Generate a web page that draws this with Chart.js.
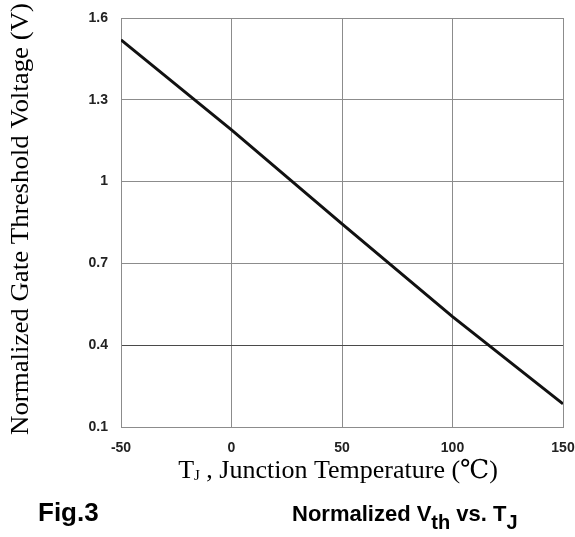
<!DOCTYPE html>
<html>
<head>
<meta charset="utf-8">
<script src="https://cdn.jsdelivr.net/npm/chart.js@4/dist/chart.umd.min.js"></script>
<style>
  html, body { margin: 0; padding: 0; background: #ffffff; }
  #c { display: block; }
</style>
</head>
<body>
<canvas id="c" width="575" height="537"></canvas>
<script>
// ---- data ----
const temperatures = [-50, 0, 50, 100, 150];              // T_J (°C)
const normalizedVth = [1.52, 1.19, 0.845, 0.505, 0.185];  // normalized V_th
const xTickValues = [-50, 0, 50, 100, 150];
const xTickLabels = ['-50', '0', '50', '100', '150'];
const yTickValues = [0.1, 0.4, 0.7, 1.0, 1.3, 1.6];
const yTickLabels = ['0.1', '0.4', '0.7', '1', '1.3', '1.6'];
const yTitle = 'Normalized Gate Threshold Voltage (V)';
const xTitleMain = 'T';
const xTitleSub = 'J';
const xTitleRest = ' , Junction Temperature (\u2103)';
const figLabel = 'Fig.3';

const points = temperatures.map((t, i) => ({ x: t, y: normalizedVth[i] }));

const textPlugin = {
  id: 'texts',
  afterDraw(chart) {
    const ctx = chart.ctx;
    ctx.save();
    ctx.fillStyle = '#000';
    const serif = '"Liberation Serif", "DejaVu Serif", serif';

    // Y title (rotated), stretched to span the reference length
    ctx.save();
    ctx.font = '25px ' + serif;
    const wy = ctx.measureText(yTitle).width;
    ctx.translate(21, 219);
    ctx.rotate(-Math.PI / 2);
    ctx.scale(432 / wy, 1);
    ctx.textAlign = 'center';
    ctx.textBaseline = 'middle';
    ctx.fillText(yTitle, 0, 0);
    ctx.restore();

    // X title
    ctx.textBaseline = 'alphabetic';
    ctx.textAlign = 'left';
    ctx.font = '26px ' + serif;
    const wT = ctx.measureText(xTitleMain).width;
    ctx.font = '15px ' + serif;
    const wJ = ctx.measureText(xTitleSub).width;
    ctx.font = '26px ' + serif;
    const wR = ctx.measureText(xTitleRest).width;
    const total = wT + wJ + wR;
    let x0 = 338 - total / 2;
    const by = 478;
    ctx.fillText(xTitleMain, x0, by);
    ctx.font = '15px ' + serif;
    ctx.fillText(xTitleSub, x0 + wT, by + 2);
    ctx.font = '26px ' + serif;
    ctx.fillText(xTitleRest, x0 + wT + wJ, by);

    // Caption
    const cy = 521;
    ctx.font = 'bold 26px "Liberation Sans", Arial, sans-serif';
    ctx.fillText(figLabel, 38, cy);
    const bold = 'bold 22px "Liberation Sans", Arial, sans-serif';
    const boldSub = 'bold 20px "Liberation Sans", Arial, sans-serif';
    let cx = 292;
    const parts = [
      ['Normalized V', bold, 0],
      ['th', boldSub, 8],
      [' vs. T', bold, 0],
      ['J', boldSub, 8]
    ];
    parts.forEach(([s, f, dy]) => {
      ctx.font = f;
      ctx.fillText(s, cx, cy + dy);
      cx += ctx.measureText(s).width;
    });
    ctx.restore();
  }
};

const gridColor = (c) => {
  const v = c.tick ? c.tick.value : null;
  if (v !== null && Math.abs(v - 0.4) < 1e-6) return '#4a4a4a';
  return '#8c8c8c';
};

new Chart(document.getElementById('c'), {
  type: 'line',
  data: {
    datasets: [{
      data: points,
      borderColor: '#111111',
      borderWidth: 3,
      pointRadius: 0,
      tension: 0,
      fill: false
    }]
  },
  options: {
    responsive: false,
    animation: false,
    events: [],
    layout: { padding: { top: 18, right: 12, bottom: 0, left: 0 } },
    plugins: { legend: { display: false }, tooltip: { enabled: false }, title: { display: false } },
    scales: {
      x: {
        type: 'linear',
        min: -50, max: 150,
        afterBuildTicks: (s) => { s.ticks = xTickValues.map(v => ({ value: v })); },
        afterFit: (s) => { s.height = 110; s.paddingRight = 0; s.paddingLeft = 0; },
        border: { display: true, color: '#8c8c8c', width: 1 },
        grid: { color: '#8c8c8c', lineWidth: 1, drawTicks: false },
        ticks: {
          padding: 13,
          color: '#222',
          font: { family: '"Liberation Sans", Arial, sans-serif', size: 14, weight: 'bold' },
          maxRotation: 0,
          callback: (v, i) => xTickLabels[i]
        }
      },
      y: {
        type: 'linear',
        min: 0.1, max: 1.6,
        afterBuildTicks: (s) => { s.ticks = yTickValues.map(v => ({ value: v })); },
        afterFit: (s) => { s.width = 121; s.paddingTop = 0; s.paddingBottom = 0; },
        border: { display: true, color: '#8c8c8c', width: 1 },
        grid: { color: gridColor, lineWidth: 1, drawTicks: false },
        ticks: {
          padding: 13,
          color: '#222',
          font: { family: '"Liberation Sans", Arial, sans-serif', size: 14, weight: 'bold' },
          callback: (v, i) => yTickLabels[i]
        }
      }
    }
  },
  plugins: [textPlugin]
});
</script>
</body>
</html>
